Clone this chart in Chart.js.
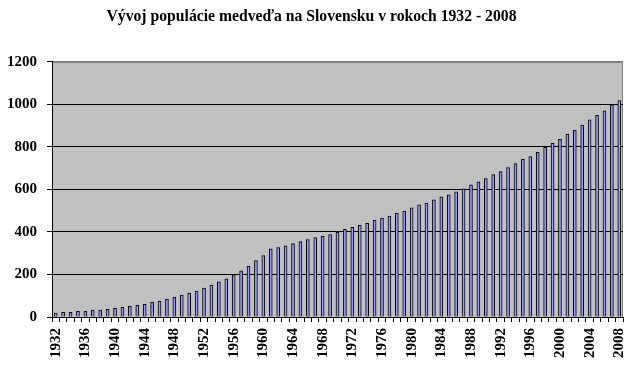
<!DOCTYPE html>
<html>
<head>
<meta charset="utf-8">
<script src="https://cdn.jsdelivr.net/npm/chart.js@4.4.9/dist/chart.umd.min.js"></script>
<style>
  html, body { margin: 0; padding: 0; background: #ffffff; }
  canvas { display: block; }
</style>
</head>
<body>
<canvas id="bearChart" width="632" height="372"></canvas>
<script>
// roky 1932 - 2008
const years = [
  1932, 1933, 1934, 1935, 1936, 1937, 1938, 1939, 1940, 1941,
  1942, 1943, 1944, 1945, 1946, 1947, 1948, 1949, 1950, 1951,
  1952, 1953, 1954, 1955, 1956, 1957, 1958, 1959, 1960, 1961,
  1962, 1963, 1964, 1965, 1966, 1967, 1968, 1969, 1970, 1971,
  1972, 1973, 1974, 1975, 1976, 1977, 1978, 1979, 1980, 1981,
  1982, 1983, 1984, 1985, 1986, 1987, 1988, 1989, 1990, 1991,
  1992, 1993, 1994, 1995, 1996, 1997, 1998, 1999, 2000, 2001,
  2002, 2003, 2004, 2005, 2006, 2007, 2008
];

// odhadnuty pocet medvedov
const bears = [
  18, 22, 22, 27, 27, 32, 32, 36, 41, 46,
  51, 55, 60, 70, 75, 84, 94, 103, 113, 122,
  136, 150, 165, 179, 198, 217, 240, 265, 289, 321,
  326, 335, 345, 355, 364, 374, 379, 388, 398, 412,
  422, 432, 441, 456, 465, 475, 489, 498, 513, 527,
  536, 551, 565, 575, 589, 603, 622, 636, 651, 670,
  684, 703, 722, 741, 755, 774, 798, 817, 836, 860,
  879, 903, 927, 950, 970, 998, 1018
];

const yTicks = [0, 200, 400, 600, 800, 1000, 1200];
const labelEvery = 4;

const serif = "'Liberation Serif', 'Times New Roman', serif";

const plotBackground = {
  id: 'plotBackground',
  beforeDraw(chart) {
    const { ctx, chartArea: a } = chart;
    ctx.save();
    ctx.fillStyle = '#c0c0c0';
    ctx.fillRect(a.left, a.top, a.right - a.left, a.bottom - a.top);
    ctx.strokeStyle = '#808080';
    ctx.lineWidth = 1;
    ctx.beginPath();
    ctx.moveTo(a.left, Math.round(a.top) + 0.5);
    ctx.lineTo(Math.round(a.right) - 0.5, Math.round(a.top) + 0.5);
    ctx.lineTo(Math.round(a.right) - 0.5, a.bottom);
    ctx.stroke();
    ctx.restore();
  }
};

new Chart(document.getElementById('bearChart'), {
  type: 'bar',
  data: {
    labels: years.map(String),
    datasets: [{
      data: bears,
      backgroundColor: '#9999ff',
      borderColor: '#000000',
      borderWidth: 1,
      borderSkipped: 'bottom',
      barThickness: 3
    }]
  },
  options: {
    responsive: false,
    animation: false,
    devicePixelRatio: 1,
    layout: { padding: { left: 0, right: 9, top: 0, bottom: 0 } },
    plugins: {
      legend: { display: false },
      tooltip: { enabled: false },
      title: {
        display: true,
        text: 'Vývoj populácie medveďa na Slovensku v rokoch 1932 - 2008',
        color: '#000000',
        font: { family: serif, size: 15.7, weight: 'bold' },
        padding: { top: 8, bottom: 35 }
      }
    },
    scales: {
      x: {
        grid: {
          drawOnChartArea: false,
          color: '#000000',
          tickLength: 5,
          offset: true
        },
        border: { color: '#000000', width: 1 },
        ticks: {
          autoSkip: false,
          minRotation: 90,
          maxRotation: 90,
          padding: 6,
          color: '#000000',
          font: { family: serif, size: 15, weight: 'bold' },
          callback: (value, index) => index % labelEvery === 0 ? years[index] : ''
        },
        afterFit: scale => {
          scale.height = 55;
          scale.paddingLeft = 0;
          scale.paddingRight = 0;
        }
      },
      y: {
        min: yTicks[0],
        max: yTicks[yTicks.length - 1],
        afterBuildTicks: scale => { scale.ticks = yTicks.map(v => ({ value: v })); },
        grid: {
          color: ctx => ctx.tick && ctx.tick.value === 1200 ? '#808080' : '#000000',
          tickColor: '#000000',
          tickLength: 5
        },
        border: { color: '#000000', width: 1 },
        ticks: {
          padding: 10,
          color: '#000000',
          font: { family: serif, size: 15, weight: 'bold' },
          callback: value => String(value)
        },
        afterFit: scale => {
          scale.width = 52;
          scale.paddingTop = 0;
          scale.paddingBottom = 0;
        }
      }
    }
  },
  plugins: [plotBackground]
});
</script>
</body>
</html>
